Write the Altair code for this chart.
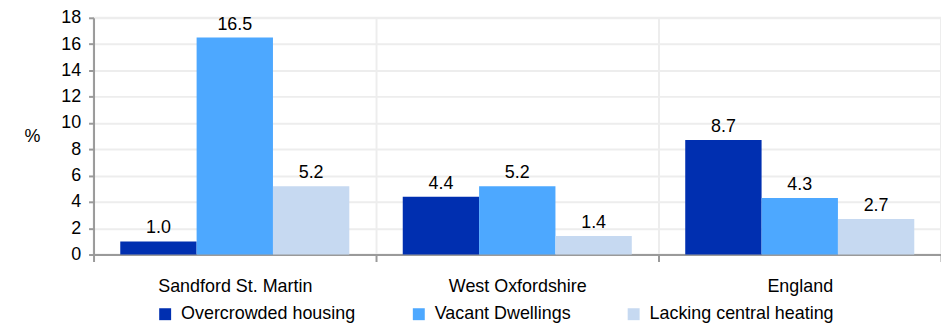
import altair as alt
import pandas as pd

areas = ["Sandford St. Martin", "West Oxfordshire", "England"]
series = ["Overcrowded housing", "Vacant Dwellings", "Lacking central heating"]
overcrowded = [1.0, 4.4, 8.7]
vacant = [16.5, 5.2, 4.3]
lacking = [5.2, 1.4, 2.7]
colors = ["#002FB0", "#4DA8FF", "#C6D9F1"]
y_ticks = list(range(0, 19, 2))

rows = []
for i, a in enumerate(areas):
    for s, vals in zip(series, [overcrowded, vacant, lacking]):
        rows.append({"area": a, "series": s, "value": vals[i]})
df = pd.DataFrame(rows)

FONT = "Liberation Sans"
FS = 18

x = alt.X("area:N", sort=areas, title=None,
          scale=alt.Scale(paddingInner=0, paddingOuter=0),
          axis=alt.Axis(labelAngle=0, tickBand="extent", grid=True,
                        gridColor="#EDEDED", gridWidth=2,
                        domainColor="#9A9A9A", domainWidth=2,
                        tickColor="#9A9A9A", tickWidth=2, tickSize=7,
                        labelPadding=16, labelFontSize=FS, labelFont=FONT,
                        labelColor="#000000"))
xo = alt.XOffset("series:N", sort=series,
                 scale=alt.Scale(paddingInner=0, paddingOuter=0.35))
y = alt.Y("value:Q", title="%",
          scale=alt.Scale(domain=[0, 18], nice=False),
          axis=alt.Axis(values=y_ticks, tickCount=10, grid=True, gridColor="#EDEDED",
                        gridWidth=2,
                        domainColor="#9A9A9A", domainWidth=2,
                        tickColor="#9A9A9A", tickWidth=2, tickSize=5,
                        labelPadding=8, labelFontSize=FS, labelFont=FONT,
                        labelColor="#000000", labelOverlap=False,
                        titleAngle=0, titleX=-62, titleY=119, titleAlign="center",
                        titleBaseline="middle", titleFont=FONT, titleFontSize=FS,
                        titleFontWeight="normal", titleColor="#000000"))
color = alt.Color("series:N", sort=series,
                  scale=alt.Scale(domain=series, range=colors),
                  legend=alt.Legend(title=None, orient="none", direction="horizontal",
                                    columns=3, legendX=63, legendY=289, padding=0,
                                    symbolType="square", symbolSize=144,
                                    symbolStrokeWidth=0, labelOffset=7,
                                    columnPadding=54, labelFont=FONT,
                                    labelFontSize=FS, labelColor="#000000",
                                    labelLimit=400))

base = alt.Chart(df)
bars = base.mark_bar().encode(x=x, xOffset=xo, y=y, color=color)
labels = base.mark_text(baseline="alphabetic", dy=-8, font=FONT, fontSize=FS,
                        color="#000000").encode(
    x=x, xOffset=xo, y=y, text=alt.Text("value:Q", format=".1f"))

chart = alt.layer(bars, labels).properties(
    width=852, height=238,
    autosize=alt.AutoSizeParams(type="none"),
    padding={"left": 86, "top": 9, "right": 0, "bottom": 70},
).configure_view(stroke="#EDEDED", strokeWidth=2)

chart.save("out.html", embed_options={"renderer": "svg", "actions": False})
